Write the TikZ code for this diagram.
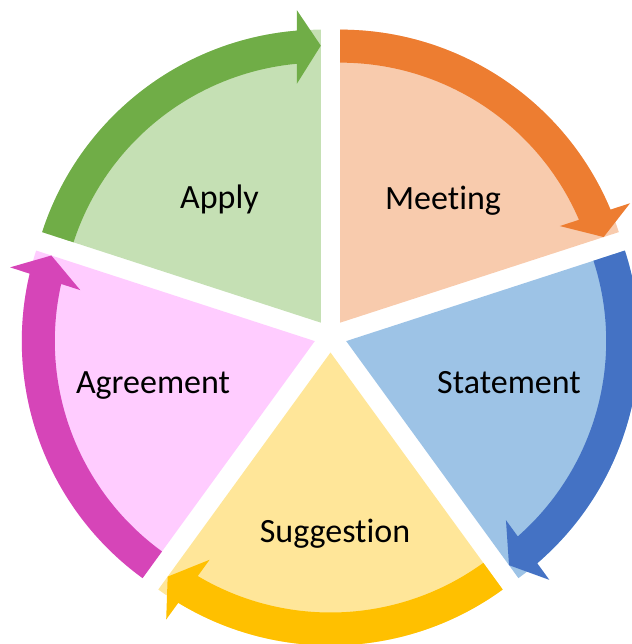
\documentclass[tikz,border=0pt]{standalone}
\usepackage{fontspec}
\setmainfont[Ligatures=NoCommon]{Carlito}
\definecolor{applyD}{HTML}{70AD47}
\definecolor{applyL}{HTML}{C5E0B4}
\definecolor{meetD}{HTML}{ED7D31}
\definecolor{meetL}{HTML}{F8CBAD}
\definecolor{stateD}{HTML}{4472C4}
\definecolor{stateL}{HTML}{9DC3E6}
\definecolor{suggD}{HTML}{FFC000}
\definecolor{suggL}{HTML}{FFE699}
\definecolor{agreeD}{HTML}{D645B8}
\definecolor{agreeL}{HTML}{FFCCFF}
\tikzset{
  segment/.style={draw=none},
  cyclearrow/.style={draw=none},
  steplabel/.style={font=\fontsize{34}{40}\selectfont, text=black, inner sep=0pt, anchor=base},
}
\begin{document}
\begin{tikzpicture}
\useasboundingbox (-330.5pt,-308pt) rectangle (300.5pt,336pt);
% five exploded segments, each with a clockwise arrow along its rim
\foreach \s/\light/\dark in {162/applyL/applyD, 90/meetL/meetD, 18/stateL/stateD, -54/suggL/suggD, -126/agreeL/agreeD} {
  \pgfmathsetmacro\e{\s-72}
  \pgfmathsetmacro\m{\s-36}
  \pgfmathsetmacro\aOut{\e+4.70}
  \pgfmathsetmacro\bOut{\e+4.39}
  \pgfmathsetmacro\bIn{\e+5.74}
  \pgfmathsetmacro\aIn{\e+5.30}
  \begin{scope}[shift={(\m:16.5pt)}]
    \fill[segment, \light] (0,0) -- (\s:293pt)
      arc[start angle=\s, end angle=\e, radius=293pt] -- cycle;
    \fill[cyclearrow, \dark] (\s:293pt)
      arc[start angle=\s, end angle=\aOut, radius=293pt]
      -- (\bOut:313.5pt) -- (\e:277pt) -- (\bIn:240pt) -- (\aIn:260pt)
      arc[start angle=\aIn, end angle=\s, radius=260pt] -- cycle;
  \end{scope}
}
\node[steplabel] (apply) at (-111pt,127pt) {Apply};
\node[steplabel] (meeting) at (112.5pt,126.5pt) {Meeting};
\node[steplabel] (statement) at (178.5pt,-58pt) {Statement};
\node[steplabel] (suggestion) at (4.5pt,-206.5pt) {Suggestion};
\node[steplabel] (agreement) at (-177.5pt,-58pt) {Agreement};
\end{tikzpicture}
\end{document}
